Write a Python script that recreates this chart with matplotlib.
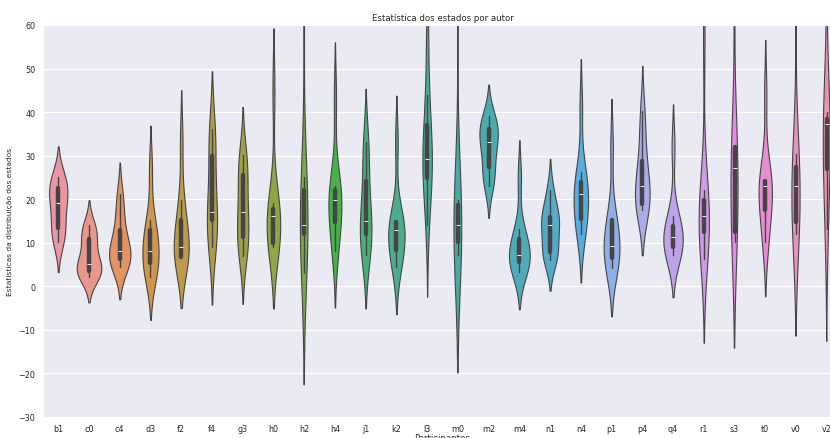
import matplotlib
matplotlib.use("Agg")
import matplotlib.pyplot as plt
import pandas as pd
import seaborn as sns

# estatisticas por participante
participantes = ["b1", "c0", "c4", "d3", "f2", "f4", "g3", "h0", "h2", "h4", "j1", "k2", "l3",
                 "m0", "m2", "m4", "n1", "n4", "p1", "p4", "q4", "r1", "s3", "t0", "v0", "v2"]

b1 = [10.2, 12, 13.3, 17, 19, 21, 22.6, 24, 25.1]
c0 = [2, 3, 3.4, 4.5, 5, 8, 10.8, 12.5, 14]
c4 = [4.3, 5.5, 6.3, 7.2, 8.1, 10, 12.9, 17, 21.1]
d3 = [2.1, 3, 5.4, 7, 8.1, 11, 12.9, 15.1, 27]
f2 = [6.5, 6.6, 6.8, 7.5, 9, 13, 15.3, 19.9, 33.5]
f4 = [9, 10, 15.3, 16, 17, 24, 29.8, 35, 36.1]
g3 = [6.9, 9, 11.4, 14, 17, 21, 25.6, 28, 30.2]
h0 = [9.1, 9.5, 9.8, 13, 16, 17, 17.8, 19.2, 45]
h2 = [3.1, 8, 11.9, 13, 14, 18, 22.1, 25, 71]
h4 = [8.1, 10, 14.8, 18, 19.9, 21, 22.2, 23, 43]
j1 = [7.1, 8, 11.9, 13.5, 15, 19, 24.1, 31, 33.1]
k2 = [4.3, 6, 8.3, 11, 12.9, 14, 14.8, 14.8, 33]
l3 = [14, 24.9, 24.9, 27, 29.1, 33, 37.1, 44, 58]
m0 = [7.1, 9, 10.2, 12, 14, 17, 18.6, 19.9, 75]
m2 = [23, 25, 27.3, 31, 33.1, 34.5, 36.2, 37.5, 39]
m4 = [3.2, 4.5, 5.5, 6.5, 7.2, 9, 10.8, 13.1, 25]
n1 = [6, 7, 7.8, 11, 14.1, 15, 15.8, 18, 22.2]
n4 = [12, 14, 15.4, 19, 21.2, 22.5, 24, 26.3, 41]
p1 = [4.1, 5, 6.4, 8, 9.2, 12, 15.1, 15.1, 32]
p4 = [17.4, 18, 18.9, 21, 23.1, 26, 28.8, 35, 40.3]
q4 = [7.2, 8, 8.9, 10, 11.2, 12.5, 13.9, 16.2, 32]
r1 = [6.2, 10, 12.4, 14, 16, 18, 19.8, 22.2, 57]
s3 = [10.2, 11, 12.4, 20, 27.1, 30, 31.9, 31.9, 72]
t0 = [10.2, 12, 17.4, 21, 23.1, 23.8, 24.2, 24.2, 44]
v0 = [12, 13.5, 14.8, 20, 23.1, 25, 27.3, 30.4, 72]
v2 = [13.1, 20, 26.8, 33, 37.3, 37.8, 38.4, 40, 84]

valores = [b1, c0, c4, d3, f2, f4, g3, h0, h2, h4, j1, k2, l3,
           m0, m2, m4, n1, n4, p1, p4, q4, r1, s3, t0, v0, v2]

linhas = []
for nome, vals in zip(participantes, valores):
    for v in vals:
        linhas.append((nome, v))
df = pd.DataFrame(linhas, columns=["Participantes", "valor"])

sns.set_style("darkgrid")

fig = plt.figure(figsize=(8.3, 4.39), dpi=100)
# o grafico original esta cortado a direita e em baixo
ax = fig.add_axes([42.9 / 830, 21.3 / 439, (842.1 - 42.9) / 830, 391.7 / 439])

sns.violinplot(data=df, x="Participantes", y="valor", hue="Participantes",
               palette=sns.husl_palette(len(participantes), l=.7), legend=False,
               linewidth=0.8, inner="box", common_norm=True,
               inner_kws=dict(box_width=3.2, whis_width=1.0), ax=ax)

ax.set_ylim(-30, 60)
ax.set_yticks(range(-30, 61, 10))
ax.set_title("Estatística dos estados por autor", fontsize=6.2, pad=3.5)
ax.set_xlabel("Participantes", fontsize=6.2, labelpad=0)
ax.set_ylabel("Estatísticas da distribuição dos estados", fontsize=5.4, labelpad=4)
ax.tick_params(axis="both", labelsize=5.8, pad=2)

fig.savefig("out.png", dpi=100)
